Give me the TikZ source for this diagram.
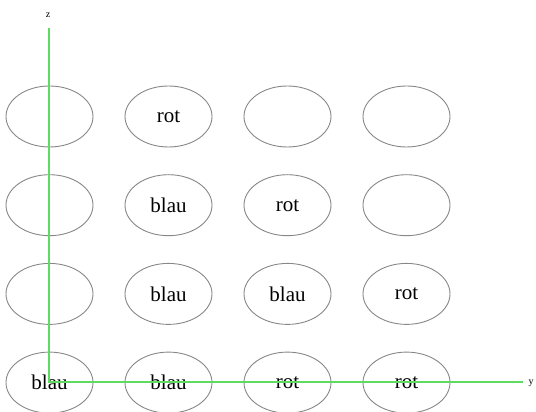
\documentclass[tikz,border=0pt]{standalone}
\usepackage{fontspec}
\setmainfont{Liberation Serif}
\usetikzlibrary{positioning,shapes.geometric}
\definecolor{axgreen}{RGB}{95,220,95}
\definecolor{rimgray}{RGB}{135,135,135}

\begin{document}
\begin{tikzpicture}[
  x=1pt, y=1pt,
  node distance=27.7pt and 32pt,
  cell/.style={ellipse, draw=rimgray, line width=0.9pt, minimum width=87pt,
               minimum height=61pt, inner sep=0pt, outer sep=0pt,
               font=\fontsize{21}{24}\selectfont},
  axis/.style={draw=axgreen, line width=1.3pt},
  lbl/.style={font=\fontsize{10}{12}\selectfont, inner sep=0pt}
]
\useasboundingbox (0,0) rectangle (536,412);

% top row
\node[cell] (a1) at (49.5,295.5) {};
\node[cell, right=of a1] (b1) {rot};
\node[cell, right=of b1] (c1) {};
\node[cell, right=of c1] (d1) {};
% second row
\node[cell, below=of a1] (a2) {};
\node[cell, below=of b1] (b2) {blau};
\node[cell, below=of c1] (c2) {rot};
\node[cell, below=of d1] (d2) {};
% third row
\node[cell, below=of a2] (a3) {};
\node[cell, below=of b2] (b3) {blau};
\node[cell, below=of c2] (c3) {blau};
\node[cell, below=of d2] (d3) {rot};
% bottom row
\node[cell, below=of a3] (a4) {blau};
\node[cell, below=of b3] (b4) {blau};
\node[cell, below=of c3] (c4) {rot};
\node[cell, below=of d3] (d4) {rot};

% axes
\coordinate (orig) at (49,30);
\coordinate (ztop) at (49,384);
\coordinate (yend) at (523,30);
\node[lbl] (zlab) at (48,397) {z};
\node[lbl] (ylab) at (531,29) {y};
\draw[axis] (ztop) -- (orig) -- (yend);
\end{tikzpicture}
\end{document}
